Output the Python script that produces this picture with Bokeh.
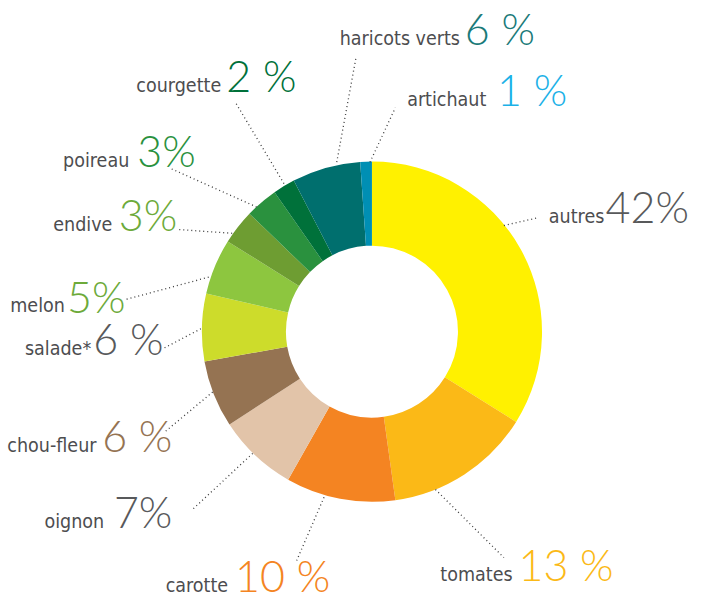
import math
from bokeh.plotting import figure
from bokeh.models import Range1d, ColumnDataSource
from bokeh.core.properties import value
from bokeh.embed import file_html
from bokeh.resources import INLINE

# ---- data ----
names = ["autres", "tomates", "carotte", "oignon", "chou-fleur", "salade*",
         "melon", "endive", "poireau", "courgette", "haricots verts", "artichaut"]
percent = [42, 13, 10, 7, 6, 6, 5, 3, 3, 2, 6, 1]
percent_labels = ["42%", "13 %", "10 %", "7%", "6 %", "6 %",
                  "5%", "3%", "3%", "2 %", "6 %", "1 %"]
# share of the ring as drawn (percent of the full circle, clockwise from 12 o'clock)
drawn_share = [33.9, 13.9, 10.4, 7.6, 6.4, 6.4, 5.3, 3.3, 3.1, 2.1, 6.5, 1.1]

slice_colors = ["#FFF100", "#FBB917", "#F48422", "#E2C4A9", "#957352", "#CDDC2B",
                "#8DC63F", "#6E9D32", "#2A913E", "#00713A", "#006F6E", "#008FB4"]
pct_colors = ["#58595B", "#FBB917", "#F48422", "#58595B", "#957352", "#58595B",
              "#6DAA3A", "#6DAA3A", "#2A913E", "#00713A", "#1A7A79", "#1BB1E7"]
name_color = "#4D4D4F"

# ---- layout (reference-pixel coordinates, y downward) ----
W_REF, H_REF = 710, 616
cx, cy = 380, 340
r_out, r_in = 174, 88

name_x = [561, 450, 169, 45, 7, 25, 10, 54, 64, 139, 347, 416]
pct_x = [619, 530, 240, 116, 104, 95, 68, 121, 140, 231, 475, 508]
base_y = [230, 598, 609, 543, 465, 366, 322, 238, 173, 96, 47, 110]

lead_x0 = [515, 445, 331, 258, 217, 205, 213, 237, 262, 290, 344, 378]
lead_y0 = [231, 502, 510, 465, 402, 337, 284, 239, 212, 188, 166, 166]
lead_x1 = [550, 515, 303, 197, 168, 167, 128, 180, 173, 240, 364, 404]
lead_y1 = [223, 572, 575, 522, 443, 357, 307, 235, 172, 104, 57, 110]

PW, PH = 694, 600
scale = PW / W_REF
name_size = 20 * scale
pct_size = 44 * scale

p = figure(width=PW, height=PH, output_backend="svg", toolbar_location=None,
           x_range=Range1d(0, W_REF), y_range=Range1d(0, H_REF),
           min_border=0, outline_line_color=None, background_fill_color="white",
           border_fill_color="white")
p.axis.visible = False
p.grid.visible = False

# wedges: clockwise from top -> bokeh anticlock angles
starts, ends = [], []
acc = 0.0
for s in drawn_share:
    t1 = acc / 100 * 2 * math.pi
    acc += s
    t2 = acc / 100 * 2 * math.pi
    starts.append(math.pi / 2 - t2)
    ends.append(math.pi / 2 - t1)

src = ColumnDataSource(dict(x=[cx] * len(names), y=[H_REF - cy] * len(names),
                            start=starts, end=ends, color=slice_colors, name=names))
p.annular_wedge(x="x", y="y", inner_radius=r_in, outer_radius=r_out,
                start_angle="start", end_angle="end", fill_color="color",
                line_color=None, source=src)

# leader lines
for x0, y0, x1, y1 in zip(lead_x0, lead_y0, lead_x1, lead_y1):
    p.line([x0, x1], [H_REF - y0, H_REF - y1], line_color="#3a3a3a",
           line_width=1.3, line_dash="1 3")

lab = ColumnDataSource(dict(nx=name_x, px=pct_x, y=[H_REF - b for b in base_y],
                            name=names, pct=percent_labels, pc=pct_colors))
p.text(x="nx", y="y", text="name", source=lab, text_color=name_color,
       text_font=value("DejaVu Sans Condensed, Roboto"),
       text_font_size=f"{name_size:.1f}px", text_baseline="alphabetic",
       text_align="left", y_offset=-0.42 * name_size)
p.text(x="px", y="y", text="pct", source=lab, text_color="pc",
       text_font=value("Lato Light"),
       text_font_size=f"{pct_size:.1f}px", text_baseline="alphabetic",
       text_align="left", y_offset=-0.42 * pct_size)

open("out.html", "w").write(file_html(p, INLINE))
